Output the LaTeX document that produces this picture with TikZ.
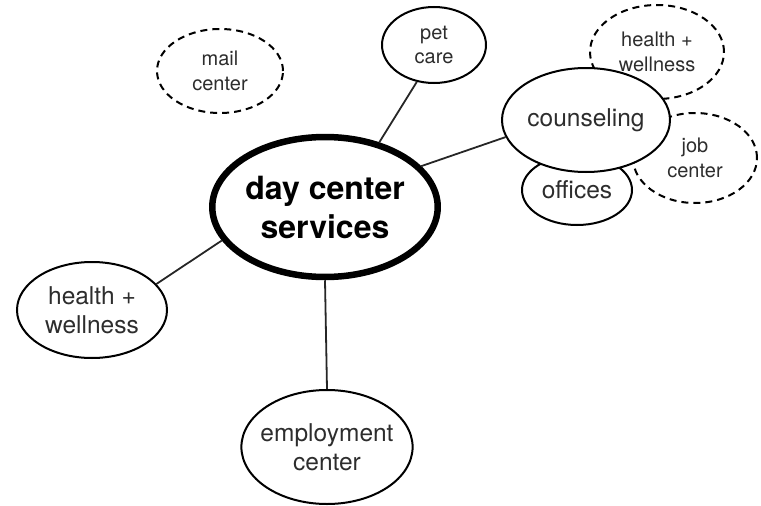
\documentclass[tikz,border=0pt]{standalone}
\usepackage{fontspec}
\setmainfont{TeX Gyre Heros}
\usepackage{xcolor}
\definecolor{inkgray}{RGB}{45, 45, 45}
\usetikzlibrary{shapes.geometric}

\begin{document}
\begin{tikzpicture}[
  x=1pt, y=-1pt,
  hub/.style={ellipse, draw=black, line width=6.5pt, fill=white, inner sep=0pt, align=center, font=\fontsize{32}{39}\selectfont\bfseries},
  topic/.style={ellipse, draw=black, line width=2pt, fill=white, inner sep=-6pt, align=center, text=inkgray, font=\fontsize{24.5}{29}\selectfont},
  small/.style={topic, font=\fontsize{20}{24.5}\selectfont},
  idea/.style={small, dash pattern=on 7pt off 5pt},
  link/.style={line width=1.8pt, color=black!85}
]
\useasboundingbox (0,0) rectangle (761,506);

% Dashed ideas (drawn first, partly covered)
\node[idea, minimum width=126pt, minimum height=84pt] (mail) at (220, 71) {mail\\center};
\node[idea, minimum width=134pt, minimum height=94pt] (hwidea) at (657, 52) {health +\\wellness};
\node[idea, minimum width=124pt, minimum height=90pt] (jobidea) at (695, 158) {job\\center};

% Service topics
\node[topic, minimum width=110pt, minimum height=70pt] (offices) at (577, 190) {offices};
\node[topic, minimum width=168pt, minimum height=104pt] (counsel) at (586, 120) {counseling};
\node[small, minimum width=104pt, minimum height=76pt] (pet) at (434, 45) {pet\\care};
\node[topic, minimum width=150pt, minimum height=96pt] (health) at (92, 310) {health +\\wellness};
\node[topic, minimum width=170pt, minimum height=114pt] (employ) at (327, 447) {employment\\center};

% Hub
\node[hub, minimum width=225pt, minimum height=140pt] (hub) at (325, 207) {day center\\services};

% Connections
\draw[link] (hub.50) -- (pet.245);
\draw[link] (hub.23) -- (counsel.192);
\draw[link] (hub.198) -- (health.22);
\draw[link] (hub.south) -- (employ.north);

\end{tikzpicture}
\end{document}
